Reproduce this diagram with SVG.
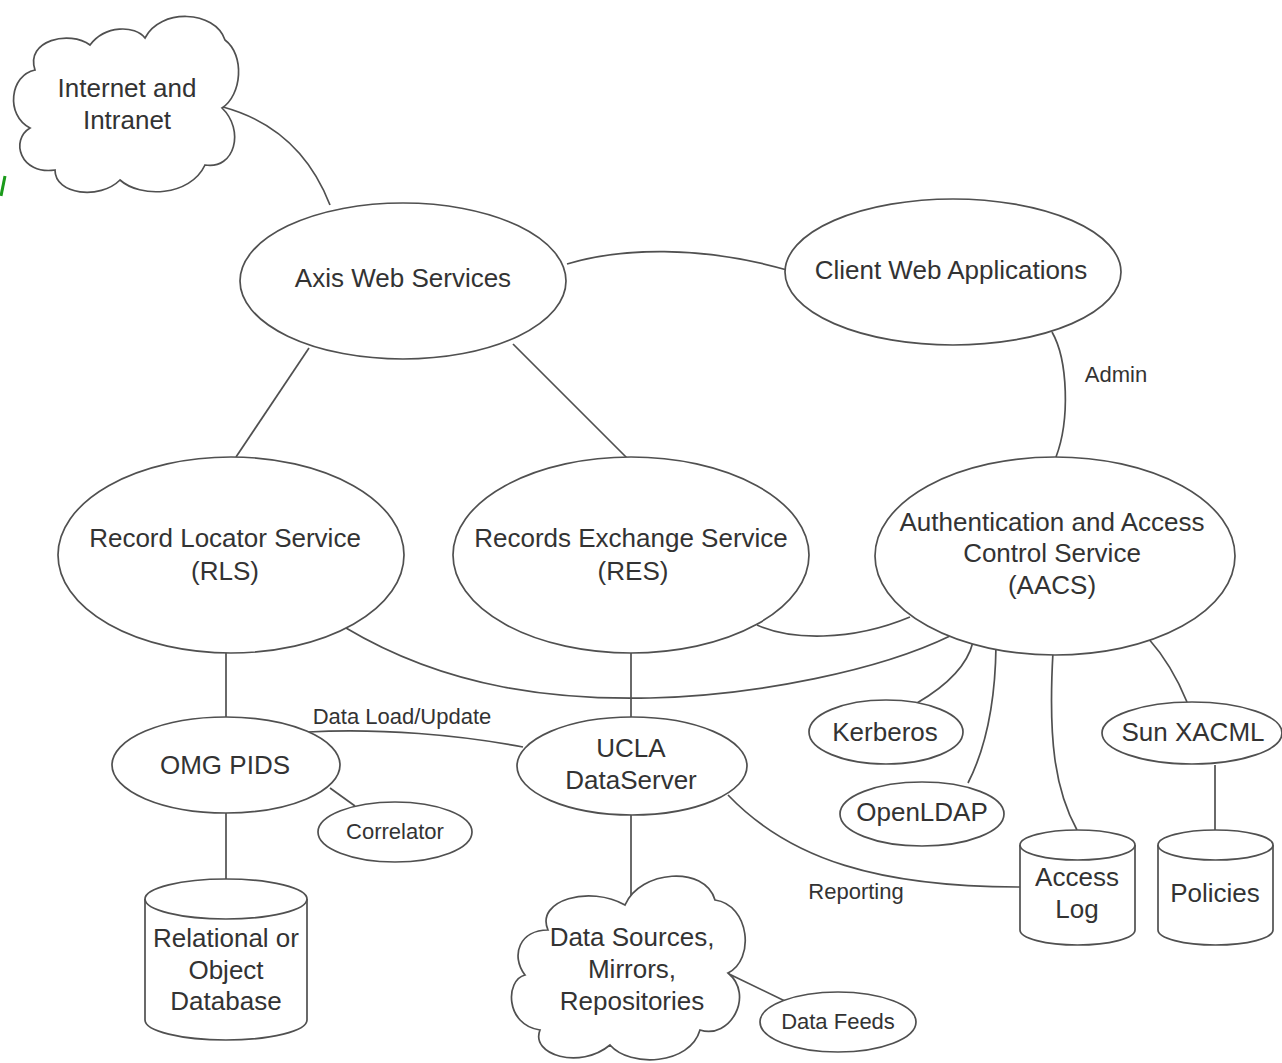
<svg xmlns="http://www.w3.org/2000/svg" width="1282" height="1063" viewBox="0 0 1282 1063">
<style>
.s{fill:#fff;stroke:#505050;stroke-width:1.7}
.c{fill:none;stroke:#505050;stroke-width:1.7}
text{font-family:"Liberation Sans",Arial,sans-serif;fill:#333;text-anchor:middle}
.L{font-size:26px}
.m{font-size:22px}
</style>
<rect width="1282" height="1063" fill="#fff"/>
<line x1="5" y1="176" x2="1" y2="196" stroke="#1a9a1a" stroke-width="3"/>
<g id="connectors">
<path class="c" d="M223,107 Q300,128 330,205"/>
<path class="c" d="M567,264 C620,248 700,245 787,270"/>
<path class="c" d="M1052,332 C1068,360 1070,420 1056,457"/>
<line class="c" x1="309" y1="348" x2="236" y2="457"/>
<line class="c" x1="513" y1="344" x2="627" y2="458"/>
<path class="c" d="M757,625 C790,640 850,642 910,617"/>
<path class="c" d="M346,628 C450,690 560,700 650,698 C760,695 880,670 950,636"/>
<line class="c" x1="226" y1="652" x2="226" y2="717"/>
<line class="c" x1="226" y1="813" x2="226" y2="879"/>
<line class="c" x1="330" y1="788" x2="355" y2="806"/>
<path class="c" d="M308,732 C380,728 460,735 523,747"/>
<line class="c" x1="631" y1="652" x2="631" y2="717"/>
<line class="c" x1="631" y1="815" x2="631" y2="907"/>
<line class="c" x1="727" y1="973" x2="787" y2="1002"/>
<path class="c" d="M728,795 C790,860 880,887 1020,887"/>
<path class="c" d="M917,703 Q965,675 973,642"/>
<path class="c" d="M968,783 Q995,730 996,646"/>
<path class="c" d="M1053,652 C1048,740 1055,790 1077,830"/>
<path class="c" d="M1148,638 Q1172,665 1187,702"/>
<line class="c" x1="1215" y1="765" x2="1215" y2="830"/>
<text class="m" x="1116" y="382">Admin</text>
<text class="m" x="402" y="724">Data Load/Update</text>
<text class="m" x="856" y="899">Reporting</text>
</g>
<g id="internet">
<path class="s" d="M35,70 C25,40 70,30 90,45 C105,25 135,25 145,38 C160,8 215,10 225,40 C245,55 242,95 222,108 C245,130 235,170 205,165 C190,197 140,198 120,180 C100,200 55,195 55,170 C20,175 10,140 30,128 C5,115 10,75 35,70 Z"/>
<text class="L" x="127" y="97">Internet and</text>
<text class="L" x="127" y="129">Intranet</text>
</g>
<g id="axis">
<ellipse class="s" cx="403" cy="281" rx="163" ry="78"/>
<text class="L" x="403" y="287">Axis Web Services</text>
</g>
<g id="client">
<ellipse class="s" cx="953" cy="272" rx="168" ry="73"/>
<text class="L" x="951" y="279">Client Web Applications</text>
</g>
<g id="rls">
<ellipse class="s" cx="231" cy="555" rx="173" ry="98"/>
<text class="L" x="225" y="547">Record Locator Service</text>
<text class="L" x="225" y="580">(RLS)</text>
</g>
<g id="res">
<ellipse class="s" cx="631" cy="555" rx="178" ry="98"/>
<text class="L" x="631" y="547">Records Exchange Service</text>
<text class="L" x="633" y="580">(RES)</text>
</g>
<g id="aacs">
<ellipse class="s" cx="1055" cy="556" rx="180" ry="99"/>
<text class="L" x="1052" y="531">Authentication and Access</text>
<text class="L" x="1052" y="562">Control Service</text>
<text class="L" x="1052" y="594">(AACS)</text>
</g>
<g id="omg">
<ellipse class="s" cx="226" cy="765" rx="114" ry="48"/>
<text class="L" x="225" y="774">OMG PIDS</text>
</g>
<g id="correlator">
<ellipse class="s" cx="395" cy="832" rx="77" ry="30"/>
<text class="m" x="395" y="839">Correlator</text>
</g>
<g id="database">
<path class="s" d="M145,899 L145,1020 A81,20 0 0 0 307,1020 L307,899"/>
<ellipse class="s" cx="226" cy="899" rx="81" ry="20"/>
<text class="L" x="226" y="947">Relational or</text>
<text class="L" x="226" y="979">Object</text>
<text class="L" x="226" y="1010">Database</text>
</g>
<g id="ucla">
<ellipse class="s" cx="632" cy="766" rx="115" ry="49"/>
<text class="L" x="631" y="757">UCLA</text>
<text class="L" x="631" y="789">DataServer</text>
</g>
<g id="datasources">
<path class="s" d="M548,930 C535,900 590,885 625,905 C640,870 705,865 715,900 C750,905 755,960 728,973 C755,995 730,1040 700,1030 C690,1065 630,1068 610,1045 C580,1070 530,1055 540,1030 C505,1025 505,980 525,975 C510,955 520,930 548,930 Z"/>
<text class="L" x="632" y="946">Data Sources,</text>
<text class="L" x="632" y="978">Mirrors,</text>
<text class="L" x="632" y="1010">Repositories</text>
</g>
<g id="datafeeds">
<ellipse class="s" cx="838" cy="1022" rx="78" ry="30"/>
<text class="m" x="838" y="1029">Data Feeds</text>
</g>
<g id="kerberos">
<ellipse class="s" cx="886" cy="732" rx="77" ry="32"/>
<text class="L" x="885" y="741">Kerberos</text>
</g>
<g id="openldap">
<ellipse class="s" cx="922" cy="814" rx="82" ry="32"/>
<text class="L" x="922" y="821">OpenLDAP</text>
</g>
<g id="sunxacml">
<ellipse class="s" cx="1192" cy="733" rx="90" ry="31"/>
<text class="L" x="1193" y="741">Sun XACML</text>
</g>
<g id="accesslog">
<path class="s" d="M1020,845 L1020,930 A57.5,15 0 0 0 1135,930 L1135,845"/>
<ellipse class="s" cx="1077.5" cy="845" rx="57.5" ry="15"/>
<text class="L" x="1077" y="886">Access</text>
<text class="L" x="1077" y="918">Log</text>
</g>
<g id="policies">
<path class="s" d="M1158,845 L1158,930 A57.5,15 0 0 0 1273,930 L1273,845"/>
<ellipse class="s" cx="1215.5" cy="845" rx="57.5" ry="15"/>
<text class="L" x="1215" y="902">Policies</text>
</g>
</svg>
